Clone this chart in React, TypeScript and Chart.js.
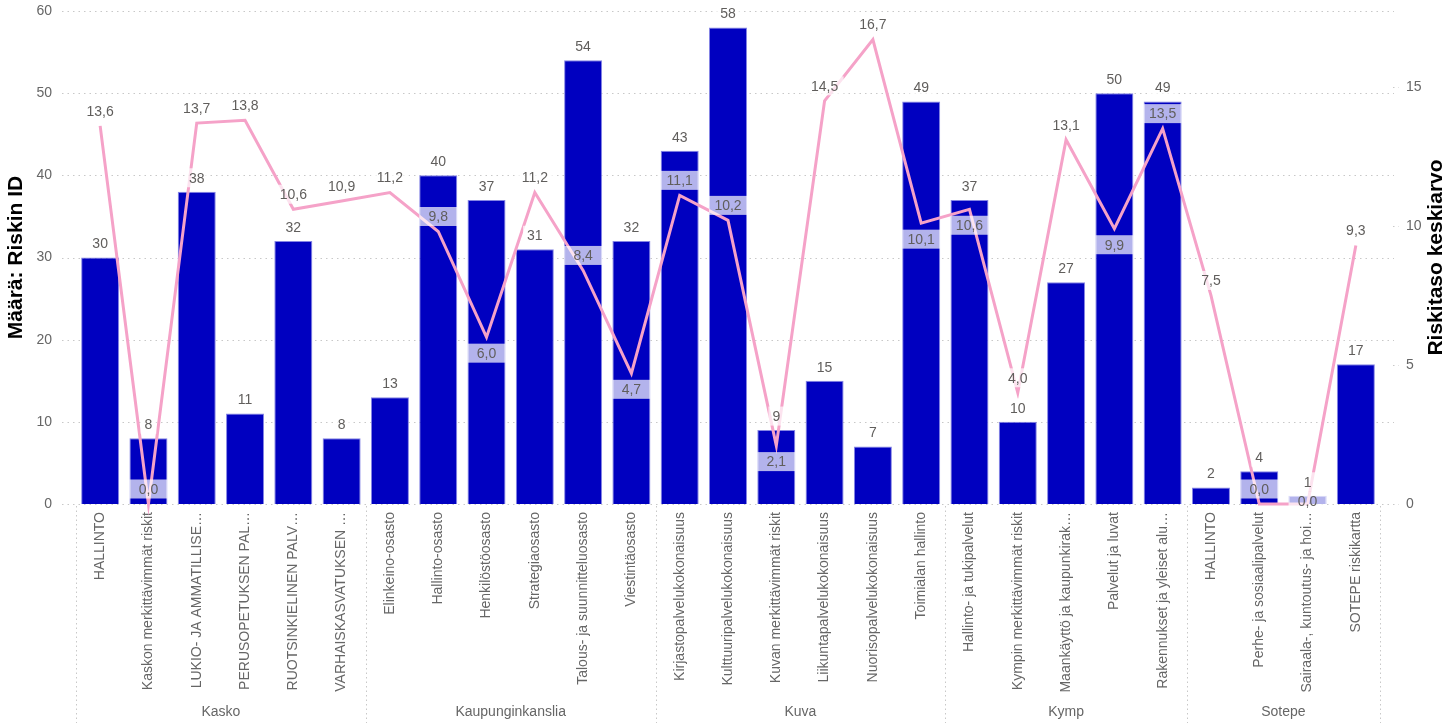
import React, { useEffect, useRef } from "react";
import { Chart, registerables } from "chart.js";

Chart.register(...registerables);

// ---------------- data ----------------
const groupNames = ["Kasko", "Kaupunginkanslia", "Kuva", "Kymp", "Sotepe"];
const groupSizes = [6, 6, 6, 5, 4];

const categoryLabels = [
  "HALLINTO",
  "Kaskon merkittävimmät riskit",
  "LUKIO- JA AMMATILLISE…",
  "PERUSOPETUKSEN PAL…",
  "RUOTSINKIELINEN PALV…",
  "VARHAISKASVATUKSEN …",
  "Elinkeino-osasto",
  "Hallinto-osasto",
  "Henkilöstöosasto",
  "Strategiaosasto",
  "Talous- ja suunnitteluosasto",
  "Viestintäosasto",
  "Kirjastopalvelukokonaisuus",
  "Kulttuuripalvelukokonaisuus",
  "Kuvan merkittävimmät riskit",
  "Liikuntapalvelukokonaisuus",
  "Nuorisopalvelukokonaisuus",
  "Toimialan hallinto",
  "Hallinto- ja tukipalvelut",
  "Kympin merkittävimmät riskit",
  "Maankäyttö ja kaupunkirak…",
  "Palvelut ja luvat",
  "Rakennukset ja yleiset alu…",
  "HALLINTO",
  "Perhe- ja sosiaalipalvelut",
  "Sairaala-, kuntoutus- ja hoi…",
  "SOTEPE riskikartta",
];

const riskCounts = [
  30, 8, 38, 11, 32, 8,
  13, 40, 37, 31, 54, 32,
  43, 58, 9, 15, 7, 49,
  37, 10, 27, 50, 49,
  2, 4, 1, 17,
];

const riskAverages = [
  13.6, 0.0, 13.7, 13.8, 10.6, 10.9,
  11.2, 9.8, 6.0, 11.2, 8.4, 4.7,
  11.1, 10.2, 2.1, 14.5, 16.7, 10.1,
  10.6, 4.0, 13.1, 9.9, 13.5,
  7.5, 0.0, 0.0, 9.3,
];

const leftAxisMax = 60;
const leftAxisStep = 10;
const rightAxisMax = 17.73;
const rightAxisStep = 5;

const leftTitle = "Määrä: Riskin ID";
const rightTitle = "Riskitaso keskiarvo";

// ---------------- styles ----------------
const FONT = '"Liberation Sans", Arial, Helvetica, sans-serif';
const TICK_COLOR = "#666666";
const LABEL_COLOR = "#605e5c";
const BAR_COLOR = "#0000c0";
const LINE_COLOR = "rgb(245,162,200)";

const fmt = (v: number) => v.toFixed(1).replace(".", ",");

const overlayPlugin = {
  id: "overlay",
  beforeDatasetsDraw(chart: any) {
    const ctx = chart.ctx;
    const area = chart.chartArea;
    const y = chart.scales.y;
    const y1 = chart.scales.y1;
    ctx.save();
    ctx.strokeStyle = "#c8c8c8";
    ctx.lineWidth = 1;
    ctx.setLineDash([1.5, 4]);
    y.ticks.forEach((t: any) => {
      const py = Math.round(y.getPixelForValue(t.value)) + 0.5;
      ctx.beginPath();
      ctx.moveTo(area.left - 14, py);
      ctx.lineTo(area.right + 14, py);
      ctx.stroke();
    });
    y1.ticks.forEach((t: any) => {
      const py = Math.round(y1.getPixelForValue(t.value)) + 0.5;
      ctx.beginPath();
      ctx.moveTo(area.right + 13, py);
      ctx.lineTo(area.right + 19, py);
      ctx.stroke();
    });
    ctx.restore();
  },
  afterDatasetsDraw(chart: any) {
    const ctx = chart.ctx;
    const area = chart.chartArea;
    const bars = chart.getDatasetMeta(0).data;
    const pts = chart.getDatasetMeta(1).data;
    const H = 19;
    ctx.save();
    ctx.font = `14px ${FONT}`;
    ctx.textAlign = "center";
    ctx.textBaseline = "middle";

    // bar labels
    const barLabelY: number[] = [];
    bars.forEach((el: any, i: number) => {
      const cy = el.y - 14;
      barLabelY.push(cy);
      const txt = String(riskCounts[i]);
      const w = ctx.measureText(txt).width + 8;
      ctx.fillStyle = "rgba(255,255,255,0.7)";
      ctx.fillRect(el.x - w / 2, cy - H / 2, w, H);
      ctx.fillStyle = LABEL_COLOR;
      ctx.fillText(txt, el.x, cy + 1);
    });

    // line labels
    const n = riskAverages.length;
    pts.forEach((p: any, i: number) => {
      const v = riskAverages[i];
      const prev = i > 0 ? riskAverages[i - 1] : Infinity;
      const next = i < n - 1 ? riskAverages[i + 1] : Infinity;
      let below = v <= prev && v <= next;
      const posFor = (b: boolean) => (b ? p.y + 16 : p.y - 15);
      if (below && posFor(true) + H / 2 > area.bottom) below = false;
      let ly = posFor(below);
      const by = barLabelY[i];
      if (Math.abs(ly - by) < H) {
        const alt = posFor(!below);
        if (alt + H / 2 <= area.bottom && alt - H / 2 >= area.top - 10) {
          ly = alt;
        } else {
          ly = by + H;
        }
      }
      const bw = bars[i].width;
      const txt = fmt(v);
      const w = Math.max(bw, ctx.measureText(txt).width + 8);
      ctx.fillStyle = "rgba(255,255,255,0.7)";
      ctx.fillRect(p.x - w / 2, ly - H / 2, w, H);
      ctx.fillStyle = LABEL_COLOR;
      ctx.fillText(txt, p.x, ly + 1);
    });
    ctx.restore();
  },
  afterDraw(chart: any) {
    const ctx = chart.ctx;
    const area = chart.chartArea;
    const x = chart.scales.x;
    const H = chart.height;
    ctx.save();
    // group separators
    ctx.strokeStyle = "#c8c8c8";
    ctx.lineWidth = 1;
    ctx.setLineDash([1.5, 3]);
    const bounds: number[] = [0];
    groupSizes.forEach((s) => bounds.push(bounds[bounds.length - 1] + s));
    bounds.forEach((b) => {
      const px = Math.round(x.getPixelForValue(b - 0.5)) + 0.5;
      ctx.beginPath();
      ctx.moveTo(px, area.bottom + 2);
      ctx.lineTo(px, H);
      ctx.stroke();
    });
    ctx.setLineDash([]);
    // group labels
    ctx.font = `14px ${FONT}`;
    ctx.fillStyle = TICK_COLOR;
    ctx.textAlign = "center";
    ctx.textBaseline = "middle";
    groupNames.forEach((g, gi) => {
      const x0 = x.getPixelForValue(bounds[gi] - 0.5);
      const x1 = x.getPixelForValue(bounds[gi + 1] - 0.5);
      ctx.fillText(g, (x0 + x1) / 2, H - 11);
    });
    // axis titles
    ctx.font = `bold 21px ${FONT}`;
    ctx.fillStyle = "#000000";
    const midY = (area.top + area.bottom) / 2;
    ctx.save();
    ctx.translate(16, midY);
    ctx.rotate(-Math.PI / 2);
    ctx.fillText(leftTitle, 0, 0);
    ctx.restore();
    ctx.save();
    ctx.translate(chart.width - 11, midY);
    ctx.rotate(-Math.PI / 2);
    ctx.fillText(rightTitle, 0, 0);
    ctx.restore();
    ctx.restore();
  },
};

export default function App() {
  const canvasRef = useRef<HTMLCanvasElement | null>(null);

  useEffect(() => {
    const canvas = canvasRef.current;
    if (!canvas) return;
    const tickFont = { family: FONT, size: 14 };
    const chart = new Chart(canvas, {
      type: "bar",
      data: {
        labels: categoryLabels,
        datasets: [
          {
            type: "bar",
            label: "Määrä: Riskin ID",
            data: riskCounts,
            yAxisID: "y",
            backgroundColor: BAR_COLOR,
            borderColor: "rgba(120,120,225,0.9)",
            borderWidth: 1,
            categoryPercentage: 1,
            barPercentage: 0.787,
            order: 2,
          },
          {
            type: "line",
            label: "Riskitaso keskiarvo",
            data: riskAverages,
            yAxisID: "y1",
            borderColor: LINE_COLOR,
            backgroundColor: LINE_COLOR,
            borderWidth: 3,
            pointRadius: 0,
            pointHoverRadius: 0,
            tension: 0,
            clip: false as any,
            order: 1,
          },
        ],
      } as any,
      options: {
        responsive: false,
        animation: false,
        devicePixelRatio: 1,
        layout: { padding: { top: 11, left: 0, right: 0, bottom: 0 } },
        plugins: {
          legend: { display: false },
          tooltip: { enabled: false },
        },
        scales: {
          x: {
            type: "category",
            offset: true,
            grid: { display: false, drawTicks: false },
            border: { display: false },
            ticks: {
              autoSkip: false,
              maxRotation: 90,
              minRotation: 90,
              padding: 8,
              color: TICK_COLOR,
              font: tickFont,
            },
            afterFit(s: any) {
              s.height = 219;
              s.paddingLeft = 0;
              s.paddingRight = 0;
            },
          },
          y: {
            position: "left",
            min: 0,
            max: leftAxisMax,
            grid: { display: false, drawTicks: false },
            border: { display: false },
            ticks: { stepSize: leftAxisStep, padding: 24, color: TICK_COLOR, font: tickFont },
            afterFit(s: any) {
              s.width = 76;
              s.paddingTop = 0;
              s.paddingBottom = 0;
            },
          },
          y1: {
            position: "right",
            min: 0,
            max: rightAxisMax,
            grid: { display: false, drawTicks: false },
            border: { display: false },
            ticks: {
              stepSize: rightAxisStep,
              includeBounds: false,
              padding: 26,
              color: TICK_COLOR,
              font: tickFont,
            },
            afterFit(s: any) {
              s.width = 67;
              s.paddingTop = 0;
              s.paddingBottom = 0;
            },
          },
        },
      } as any,
      plugins: [overlayPlugin],
    });
    return () => chart.destroy();
  }, []);

  return (
    <div style={{ position: "absolute", left: 0, top: 0, width: 1447, height: 723, background: "#fff" }}>
      <canvas ref={canvasRef} width={1447} height={723} style={{ display: "block" }} />
    </div>
  );
}
